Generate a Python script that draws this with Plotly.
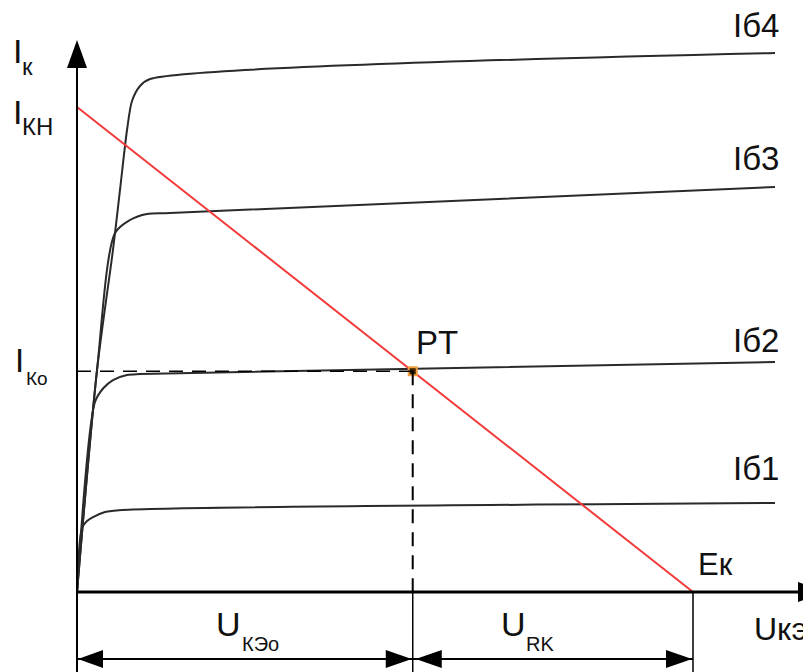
import plotly.graph_objects as go

# ---------------- data (volts / milliamps, arbitrary units) ----------------
ek = 10.0          # supply voltage Eк (load line end on U axis)
ikn = 10.0         # saturation current Iкн (load line start on I axis)
uke0 = 5.45        # operating point voltage Uкэо
ik0 = 4.55         # operating point current Iко

ib4_u = [0, 0.325, 0.584, 0.698, 0.812, 0.893, 1.023, 1.185, 11.331]
ib4_i = [0, 4.577, 7.052, 8.289, 9.526, 10.124, 10.433, 10.577, 11.113]
ib3_u = [0, 0.325, 0.617, 0.860, 1.136, 1.510, 11.331]
ib3_i = [0, 4.577, 7.402, 7.670, 7.794, 7.814, 8.351]
ib2_u = [0, 0.292, 0.430, 0.584, 0.812, 1.023, 11.331]
ib2_i = [0, 3.918, 4.206, 4.371, 4.474, 4.495, 4.742]
ib1_u = [0, 0.081, 0.162, 0.260, 0.455, 0.731, 11.331]
ib1_i = [0, 1.320, 1.464, 1.546, 1.649, 1.691, 1.835]

curve_names = ["Iб4", "Iб3", "Iб2", "Iб1"]

# ---------------- layout constants ----------------
OFF = 8                      # page body margin of the browser
W, H = 811 - OFF, 672 - OFF  # figure size so it fits the window
SX, SY = 61.6, 48.5          # pixels per data unit
X0PX, Y0PX = 77 - OFF, 592 - OFF
X_MIN, X_MAX = -X0PX / SX, (W - X0PX) / SX
Y_MIN, Y_MAX = -(H - Y0PX) / SY, Y0PX / SY


def px2x(px):
    return X_MIN + (px - OFF) / W * (X_MAX - X_MIN)


def py2y(py):
    return Y_MAX - (py - OFF) / H * (Y_MAX - Y_MIN)


Y_TIP = py2y(40)
DIM_Y = py2y(659)
FONT = "Liberation Sans, Arial, sans-serif"
TXT = "#111111"
CURVE = "#2a2a2a"

fig = go.Figure()

for u, i, n in [(ib4_u, ib4_i, curve_names[0]), (ib3_u, ib3_i, curve_names[1]),
                (ib2_u, ib2_i, curve_names[2]), (ib1_u, ib1_i, curve_names[3])]:
    fig.add_trace(go.Scatter(x=u, y=i, mode="lines", name=n,
                             line=dict(color=CURVE, width=2, shape="spline", smoothing=0.8),
                             hoverinfo="skip"))

# load line
fig.add_trace(go.Scatter(x=[0, ek], y=[ikn, 0], mode="lines",
                         line=dict(color="#f23a3a", width=2), hoverinfo="skip"))

shapes = []
# axes
shapes.append(dict(type="line", x0=0, x1=0, y0=Y_MIN, y1=Y_TIP - 0.3,
                   line=dict(color="black", width=2)))
shapes.append(dict(type="line", x0=0, x1=X_MAX, y0=0, y1=0,
                   line=dict(color="black", width=3)))
# axis arrowheads
shapes.append(dict(type="path", xsizemode="pixel", ysizemode="pixel", xanchor=0, yanchor=Y_TIP,
                   path="M0,0 L-10,-28 L10,-28 Z", fillcolor="black", line=dict(width=0)))
shapes.append(dict(type="path", xsizemode="pixel", ysizemode="pixel", xanchor=px2x(826), yanchor=0,
                   path="M0,0 L-28,10 L-28,-10 Z", fillcolor="black", line=dict(width=0)))
# operating point projections
shapes.append(dict(type="line", x0=0, x1=uke0, y0=ik0, y1=ik0,
                   line=dict(color="black", width=1.5, dash="14px,9px")))
shapes.append(dict(type="line", x0=uke0, x1=uke0, y0=ik0, y1=0,
                   line=dict(color="black", width=2, dash="14px,9px")))
shapes.append(dict(type="line", x0=uke0, x1=uke0, y0=0, y1=Y_MIN,
                   line=dict(color="black", width=1.5)))
shapes.append(dict(type="line", x0=ek, x1=ek, y0=0, y1=Y_MIN,
                   line=dict(color="black", width=1.5)))
# dimension lines
shapes.append(dict(type="line", x0=0, x1=uke0, y0=DIM_Y, y1=DIM_Y,
                   line=dict(color="black", width=2)))
shapes.append(dict(type="line", x0=uke0, x1=ek, y0=DIM_Y, y1=DIM_Y,
                   line=dict(color="black", width=2)))
for xa, p in [(0, "M1,0 L26,9 L26,-9 Z"), (uke0, "M-1,0 L-27,9 L-27,-9 Z"),
              (uke0, "M3,0 L29,9 L29,-9 Z"), (ek, "M-1,0 L-27,9 L-27,-9 Z")]:
    shapes.append(dict(type="path", xsizemode="pixel", ysizemode="pixel", xanchor=xa, yanchor=DIM_Y,
                       path=p, fillcolor="black", line=dict(width=0)))

# operating point marker
fig.add_trace(go.Scatter(x=[uke0], y=[ik0], mode="markers",
                         marker=dict(symbol="square", size=8, color="#3a2200",
                                     line=dict(color="#f0a040", width=2)),
                         hoverinfo="skip"))

ann = []


def label(text, px, py, size, xanchor="left"):
    ann.append(dict(text=text, x=px2x(px), y=py2y(py), xref="x", yref="y",
                    xanchor=xanchor, yanchor="middle", showarrow=False,
                    font=dict(family=FONT, size=size, color=TXT)))


# Iк
label("I", 11, 50.5, 34)
label("к", 20, 66.5, 24)
# Iкн
label("I", 11, 111.5, 34)
label("КН", 20, 126.5, 24)
# Iко
label("I", 13, 360, 33)
label("Ко", 24, 378.5, 19)
# PT
label("PT", 414, 342.5, 33)
# Eк
label("Eк", 696, 564, 31)
# Uкэ
label("Uкэ", 752, 628.5, 32)
# Uкэо
label("U", 214, 623.5, 34)
label("КЭо", 240, 643.5, 20)
# URK
label("U", 499, 623.5, 34)
label("RK", 524, 643.5, 20)
# curve labels
for n, cy in zip(curve_names, [25.5, 158.5, 340.5, 468.5]):
    label(n, 731, cy, 33)

fig.update_layout(
    width=W, height=H,
    margin=dict(l=0, r=0, t=0, b=0),
    paper_bgcolor="white", plot_bgcolor="white",
    showlegend=False,
    xaxis=dict(range=[X_MIN, X_MAX], visible=False, fixedrange=True),
    yaxis=dict(range=[Y_MIN, Y_MAX], visible=False, fixedrange=True),
    shapes=shapes, annotations=ann,
)

fig.write_html("out.html")
